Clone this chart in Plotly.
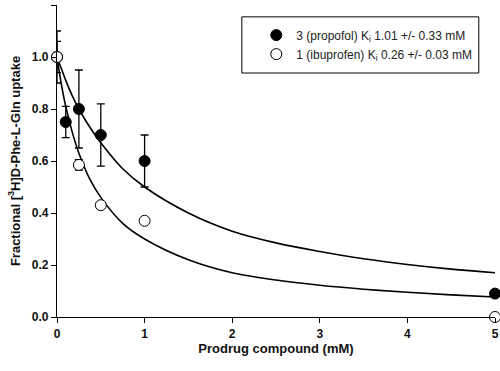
import plotly.graph_objects as go

# Measured data points
x_prop = [0, 0.1, 0.25, 0.5, 1, 5]
y_prop = [1.0, 0.75, 0.80, 0.70, 0.60, 0.09]
e_prop = [0.10, 0.06, 0.15, 0.12, 0.10, 0.01]

x_ibu = [0, 0.25, 0.5, 1, 5]
y_ibu = [1.0, 0.585, 0.43, 0.37, 0.0]
e_ibu = [0.06, 0.02, 0.0, 0.0, 0.0]

# Fitted curves
x_fit = [0, 0.05, 0.1, 0.175, 0.25, 0.375, 0.5, 0.75, 1, 1.5, 2, 2.5, 3, 3.5, 4, 4.5, 5]
y_fit_prop = [1.0, 0.955, 0.91, 0.85, 0.80, 0.73, 0.67, 0.57, 0.50, 0.40, 0.33, 0.285, 0.252, 0.224, 0.202, 0.184, 0.17]
y_fit_ibu = [1.0, 0.895, 0.81, 0.71, 0.63, 0.53, 0.46, 0.36, 0.30, 0.22, 0.17, 0.142, 0.122, 0.107, 0.095, 0.085, 0.077]

x_ticks = [0, 1, 2, 3, 4, 5]
y_ticks = [0.0, 0.2, 0.4, 0.6, 0.8, 1.0, 1.2]

names = ["3 (propofol) K<sub>i</sub> 1.01 +/- 0.33 mM",
         "1 (ibuprofen) K<sub>i</sub> 0.26 +/- 0.03 mM"]

fig = go.Figure()
fig.add_trace(go.Scatter(x=x_fit, y=y_fit_prop, mode="lines", line=dict(color="black", width=1.6, shape="spline"),
                         showlegend=False, hoverinfo="skip"))
fig.add_trace(go.Scatter(x=x_fit, y=y_fit_ibu, mode="lines", line=dict(color="black", width=1.6, shape="spline"),
                         showlegend=False, hoverinfo="skip"))
fig.add_trace(go.Scatter(x=x_prop, y=y_prop, mode="markers", name=names[0],
                         marker=dict(symbol="circle", size=11, color="black", line=dict(color="black", width=1)),
                         error_y=dict(type="data", array=e_prop, color="black", thickness=1.3, width=4),
                         cliponaxis=False))
fig.add_trace(go.Scatter(x=x_ibu, y=y_ibu, mode="markers", name=names[1],
                         marker=dict(symbol="circle", size=11, color="white", line=dict(color="black", width=1)),
                         error_y=dict(type="data", array=e_ibu, color="black", thickness=1.3, width=4),
                         cliponaxis=False))

fig.update_layout(
    width=500, height=371,
    margin=dict(l=57, r=5, t=5, b=54, autoexpand=False),
    paper_bgcolor="white", plot_bgcolor="white",
    font=dict(family="Liberation Sans, Arial, sans-serif", color="#111111"),
    xaxis=dict(range=[0, 5], tickvals=x_ticks, ticktext=["<b>%d</b>" % v for v in x_ticks],
               showline=True, linecolor="black", linewidth=1.3, ticks="outside", ticklen=5,
               tickcolor="black", showgrid=False, zeroline=False, automargin=False,
               tickfont=dict(family="Liberation Sans, Arial, sans-serif", size=12, color="#111111"),
               title=dict(text="<b>Prodrug compound (mM)</b>", font=dict(size=13, color="#111111"), standoff=3)),
    yaxis=dict(range=[0, 1.2], tickvals=y_ticks, ticktext=["<b>%.1f</b>" % v for v in y_ticks],
               showline=True, linecolor="black", linewidth=1.3, ticks="outside", ticklen=5,
               tickcolor="black", showgrid=False, zeroline=False, automargin=False,
               tickfont=dict(family="Liberation Sans, Arial, sans-serif", size=12, color="#111111"),
               title=dict(text="<b>Fractional [<sup>3</sup>H]D-Phe-L-Gln uptake</b>", font=dict(size=13, color="#111111"), standoff=8)),
    legend=dict(x=0.455, y=0.95, xanchor="left", yanchor="top", borderwidth=0,
                bgcolor="rgba(0,0,0,0)", font=dict(size=12, color="#222222"), tracegroupgap=2),
    shapes=[dict(type="rect", xref="paper", yref="paper", x0=0.422, x1=0.963, y0=0.782, y1=0.962,
                 line=dict(color="black", width=1), fillcolor="white", layer="below")],
)

fig.write_html("out.html", config={"displayModeBar": False},
               post_script="document.body.style.margin='0';")
